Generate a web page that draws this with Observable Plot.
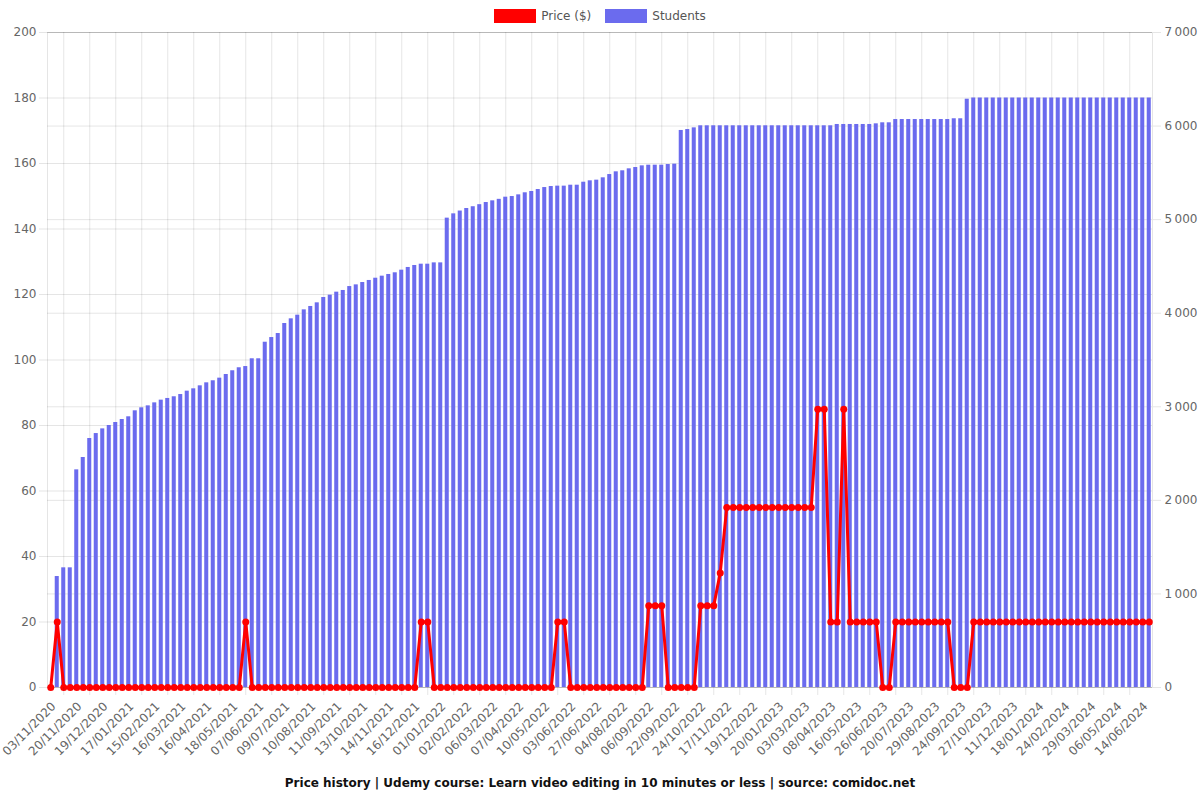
<!DOCTYPE html>
<html>
<head>
<meta charset="utf-8">
<script src="https://cdn.jsdelivr.net/npm/d3@7"></script>
<script src="https://cdn.jsdelivr.net/npm/@observablehq/plot@0.6"></script>
<style>
  html, body { margin: 0; padding: 0; background: #fff; }
  body { font-family: "DejaVu Sans", sans-serif; width: 1200px; }
  #legend { height: 24px; display: flex; justify-content: center; align-items: flex-start; font-size: 12px; color: #555; }
  .item { display: flex; align-items: center; margin-top: 9px; }
  .box { width: 40px; height: 12px; border: 1px solid; margin-right: 5px; }
  .item + .item { margin-left: 14px; }
  #caption { height: 18px; line-height: 18px; text-align: center; font-size: 12px; font-weight: bold; color: #111; }
  svg { overflow: visible; }
</style>
</head>
<body>
<div id="legend"></div>
<div id="chart"></div>
<div id="caption"></div>
<script>
const title = "Price history | Udemy course: Learn video editing in 10 minutes or less | source: comidoc.net";
const seriesNames = ["Price ($)", "Students"];
const seriesColors = ["#ff0000", "#6b6bee"];

const xLabels = [
  "03/11/2020","20/11/2020","19/12/2020","17/01/2021","15/02/2021","16/03/2021","16/04/2021","18/05/2021",
  "07/06/2021","09/07/2021","10/08/2021","11/09/2021","13/10/2021","14/11/2021","16/12/2021","01/01/2022",
  "02/02/2022","06/03/2022","07/04/2022","10/05/2022","03/06/2022","27/06/2022","04/08/2022","06/09/2022",
  "22/09/2022","24/10/2022","17/11/2022","19/12/2022","20/01/2023","03/03/2023","08/04/2023","16/05/2023",
  "26/06/2023","20/07/2023","29/08/2023","24/09/2023","27/10/2023","11/12/2023","18/01/2024","24/02/2024",
  "29/03/2024","06/05/2024","14/06/2024"
];

const price = [
  0,20,0,0,0,0,0,0,0,0,
  0,0,0,0,0,0,0,0,0,0,
  0,0,0,0,0,0,0,0,0,0,
  20,0,0,0,0,0,0,0,0,0,
  0,0,0,0,0,0,0,0,0,0,
  0,0,0,0,0,0,0,20,20,0,
  0,0,0,0,0,0,0,0,0,0,
  0,0,0,0,0,0,0,0,20,20,
  0,0,0,0,0,0,0,0,0,0,
  0,0,25,25,25,0,0,0,0,0,
  25,25,25,35,55,55,55,55,55,55,
  55,55,55,55,55,55,55,55,85,85,
  20,20,85,20,20,20,20,20,0,0,
  20,20,20,20,20,20,20,20,20,0,
  0,0,20,20,20,20,20,20,20,20,
  20,20,20,20,20,20,20,20,20,20,
  20,20,20,20,20,20,20,20,20,20
];

const students = [
  0,1186,1279,1279,2326,2458,2661,2714,2764,2800,
  2832,2864,2893,2957,2989,3010,3042,3071,3089,3107,
  3131,3167,3192,3224,3256,3278,3306,3345,3385,3417,
  3430,3513,3513,3690,3740,3783,3890,3940,3979,4036,
  4072,4111,4168,4193,4225,4243,4285,4303,4328,4350,
  4374,4396,4414,4432,4460,4489,4510,4524,4524,4538,
  4538,5016,5062,5092,5119,5138,5160,5183,5201,5217,
  5240,5247,5265,5287,5301,5322,5343,5354,5358,5358,
  5368,5368,5400,5415,5422,5447,5482,5511,5522,5543,
  5557,5575,5582,5582,5582,5589,5593,5953,5963,5981,
  6003,6003,6003,6003,6003,6003,6003,6003,6003,6003,
  6003,6003,6003,6003,6003,6003,6003,6003,6003,6003,
  6003,6017,6017,6017,6017,6017,6017,6024,6035,6035,
  6070,6070,6070,6070,6070,6070,6070,6070,6070,6078,
  6078,6287,6300,6300,6300,6300,6300,6300,6300,6300,
  6300,6300,6300,6300,6300,6300,6300,6300,6300,6300,
  6300,6300,6300,6300,6300,6300,6300,6300,6300,6300
];

const priceTicks = d3.range(0, 201, 20);
const studentTicks = d3.range(0, 7001, 1000);
const priceMax = 200, studentMax = 7000;
const k = priceMax / studentMax;
const labelEvery = 4;

const rows = price.map((p, i) => ({i, price: p, students: students[i]}));
const labelIdx = xLabels.map((_, j) => j * labelEvery);
const gridIdx = labelIdx.slice(0, -1).map(v => v + labelEvery / 2);
const fmtStudents = s => d3.format(",")(s).replace(/,/g, "\u202f");

// legend
const legend = document.getElementById("legend");
seriesNames.forEach((name, j) => {
  const it = document.createElement("div");
  it.className = "item";
  const b = document.createElement("div");
  b.className = "box";
  b.style.background = seriesColors[j];
  b.style.borderColor = seriesColors[j];
  const t = document.createElement("span");
  t.textContent = name;
  it.append(b, t);
  legend.append(it);
});
document.getElementById("caption").textContent = title;

const gridStyle = {stroke: "#000", strokeOpacity: 0.1};

const chart = Plot.plot({
  width: 1200,
  height: 750,
  marginTop: 8,
  marginBottom: 87,
  marginLeft: 47,
  marginRight: 48,
  style: {fontFamily: "DejaVu Sans", fontSize: "12px", color: "#666", background: "#fff", overflow: "visible"},
  x: {type: "linear", domain: [-0.5, price.length - 0.5]},
  y: {domain: [0, priceMax]},
  marks: [
    Plot.gridY(priceTicks, gridStyle),
    Plot.gridY(studentTicks.map(s => s * k), gridStyle),
    Plot.gridX(gridIdx, gridStyle),
    Plot.frame(gridStyle),
    Plot.rectY(rows, {x1: d => d.i - 0.31, x2: d => d.i + 0.31, y1: 0, y2: d => d.students * k, fill: seriesColors[1]}),
    Plot.line(rows, {x: "i", y: "price", stroke: seriesColors[0], strokeWidth: 3}),
    Plot.dot(rows, {x: "i", y: "price", r: 3.5, fill: seriesColors[0]}),
    Plot.axisY({anchor: "left", ticks: priceTicks, tickSize: 8, tickPadding: 3, stroke: "#000", strokeOpacity: 0.1, fill: "#666", label: null}),
    Plot.axisY({anchor: "right", ticks: studentTicks.map(s => s * k), tickFormat: v => fmtStudents(Math.round(v / k)), tickSize: 8, tickPadding: 4, stroke: "#000", strokeOpacity: 0.1, fill: "#666", label: null}),
    Plot.axisX({anchor: "bottom", ticks: gridIdx, tickSize: 8, stroke: "#000", strokeOpacity: 0.1, fill: "none", label: null}),
    Plot.axisX({anchor: "bottom", ticks: labelIdx, tickFormat: i => xLabels[i / labelEvery], tickRotate: -45, tickSize: 0, tickPadding: 12, dx: 3, dy: 5, fill: "#666", label: null})
  ]
});
document.getElementById("chart").append(chart);
</script>
</body>
</html>
